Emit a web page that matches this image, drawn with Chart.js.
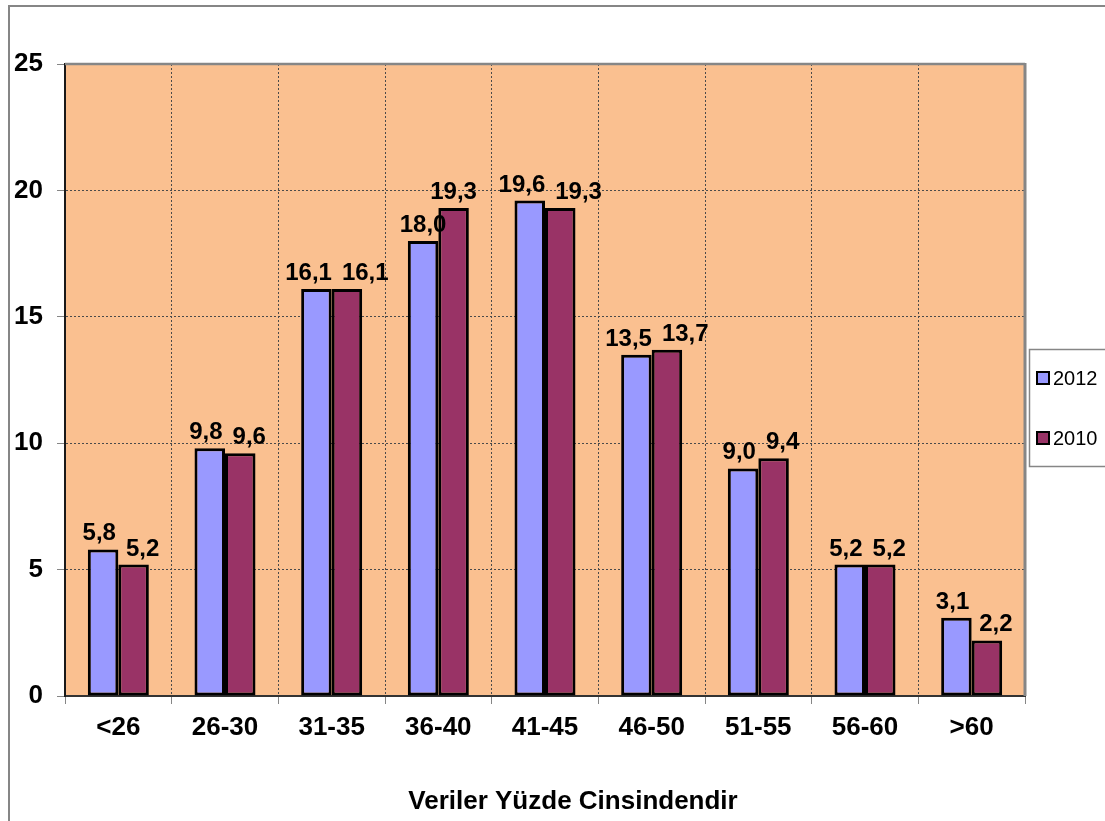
<!DOCTYPE html>
<html>
<head>
<meta charset="utf-8">
<script src="https://cdn.jsdelivr.net/npm/chart.js@4/dist/chart.umd.min.js"></script>
<style>
  html, body { margin: 0; padding: 0; background: #ffffff; }
  #wrap { width: 1105px; height: 821px; }
</style>
</head>
<body>
<div id="wrap"><canvas id="c" width="1105" height="821"></canvas></div>
<script>
// Age groups and percentage shares per survey year
const ageGroups = ['<26', '26-30', '31-35', '36-40', '41-45', '46-50', '51-55', '56-60', '>60'];
const share2012 = [5.8, 9.8, 16.1, 18.0, 19.6, 13.5, 9.0, 5.2, 3.1];
const share2010 = [5.2, 9.6, 16.1, 19.3, 19.3, 13.7, 9.4, 5.2, 2.2];
const seriesNames = ['2012', '2010'];
const yTickValues = [0, 5, 10, 15, 20, 25];
const axisTitle = 'Veriler Yüzde Cinsindendir';

const FONT = "'Liberation Sans', Arial, sans-serif";
const PLOT_BG = '#FAC090';
const FRAME_GREY = '#868686';

// Peach plot background, grey frame and outer chart border
const framePlugin = {
  id: 'frame',
  beforeDraw(chart) {
    const { ctx, chartArea: a } = chart;
    ctx.save();
    ctx.fillStyle = '#ffffff';
    ctx.fillRect(0, 0, chart.width, chart.height);
    ctx.fillStyle = PLOT_BG;
    ctx.fillRect(a.left, a.top, a.right - a.left, a.bottom - a.top);
    ctx.strokeStyle = FRAME_GREY;
    ctx.lineWidth = 2;
    ctx.strokeRect(9, 6, chart.width + 40, chart.height + 40);
    ctx.restore();
  },
  afterDraw(chart) {
    const { ctx, chartArea: a } = chart;
    ctx.save();
    ctx.strokeStyle = FRAME_GREY;
    ctx.lineWidth = 2.5;
    ctx.beginPath();
    ctx.moveTo(a.left, a.top);
    ctx.lineTo(a.right, a.top);
    ctx.stroke();
    ctx.lineWidth = 3;
    ctx.beginPath();
    ctx.moveTo(a.right, a.top - 1);
    ctx.lineTo(a.right, a.bottom);
    ctx.stroke();

    // axis title under the category labels
    ctx.fillStyle = '#000000';
    ctx.font = 'bold 26px ' + FONT;
    ctx.textAlign = 'center';
    ctx.textBaseline = 'middle';
    ctx.fillText(axisTitle, 573, 802);

    // legend box with one swatch per series
    ctx.fillStyle = '#ffffff';
    ctx.fillRect(1029.5, 349.5, 100, 117);
    ctx.strokeStyle = FRAME_GREY;
    ctx.lineWidth = 1.5;
    ctx.strokeRect(1029.5, 349.5, 100, 117);
    chart.data.datasets.forEach((ds, i) => {
      const cy = 378 + i * 60;
      ctx.fillStyle = ds.backgroundColor;
      ctx.fillRect(1037, cy - 6, 12, 12);
      ctx.strokeStyle = '#000000';
      ctx.lineWidth = 2;
      ctx.strokeRect(1037, cy - 6, 12, 12);
      ctx.fillStyle = '#000000';
      ctx.font = '20px ' + FONT;
      ctx.textAlign = 'left';
      ctx.textBaseline = 'middle';
      ctx.fillText(ds.label, 1053, cy + 1);
    });
    ctx.restore();
  }
};

// Value labels above each bar, pushed apart where the pair would collide
const valueLabelPlugin = {
  id: 'valueLabels',
  afterDatasetsDraw(chart) {
    const { ctx } = chart;
    ctx.save();
    ctx.font = 'bold 24px ' + FONT;
    ctx.fillStyle = '#000000';
    ctx.textAlign = 'center';
    ctx.textBaseline = 'alphabetic';
    const metaA = chart.getDatasetMeta(0);
    const metaB = chart.getDatasetMeta(1);
    const rowSpan = 32, gap = 10;
    ageGroups.forEach((_, i) => {
      const items = [metaA, metaB].map((meta, d) => {
        const v = chart.data.datasets[d].data[i];
        const text = v.toFixed(1).replace('.', ',');
        const bar = meta.data[i];
        return { text, x: bar.x, y: bar.y - 9, w: ctx.measureText(text).width };
      });
      const [a, b] = items;
      const vOverlap = Math.abs(a.y - b.y) < rowSpan;
      const hOverlap = (a.x + a.w / 2 + gap) - (b.x - b.w / 2);
      if (vOverlap && hOverlap > 0) {
        a.x -= hOverlap * 0.3;
        b.x += hOverlap * 0.7;
      }
      items.forEach(it => ctx.fillText(it.text, it.x, it.y));
    });
    ctx.restore();
  }
};

new Chart(document.getElementById('c'), {
  type: 'bar',
  data: {
    labels: ageGroups,
    datasets: [
      { label: seriesNames[0], data: share2012, backgroundColor: '#9999FF' },
      { label: seriesNames[1], data: share2010, backgroundColor: '#993366' }
    ]
  },
  options: {
    responsive: false,
    animation: false,
    devicePixelRatio: 1,
    layout: { padding: { left: 10, top: 64, right: 80, bottom: 0 } },
    datasets: {
      bar: {
        barPercentage: 1,
        categoryPercentage: 0.572,
        borderColor: '#000000',
        borderWidth: 3,
        borderSkipped: false
      }
    },
    plugins: {
      legend: { display: false },
      tooltip: { enabled: false }
    },
    scales: {
      x: {
        afterFit(scale) { scale.height = 125; },
        ticks: {
          color: '#000000',
          font: { family: FONT, size: 26, weight: 'bold' },
          padding: 8,
          maxRotation: 0
        },
        grid: {
          offset: true,
          color: ctx => (ctx.type === 'tick' && ctx.index > 0) ? '#4a4a4a' : 'rgba(0,0,0,0)',
          lineWidth: 1,
          tickColor: FRAME_GREY,
          tickLength: 8
        },
        border: { color: '#333333', width: 2, dash: [2, 2] }
      },
      y: {
        min: 0,
        max: 25,
        afterFit(scale) { scale.width = 55; },
        afterBuildTicks(scale) { scale.ticks = yTickValues.map(v => ({ value: v })); },
        ticks: {
          color: '#000000',
          font: { family: FONT, size: 26, weight: 'bold' },
          padding: 14
        },
        grid: {
          color: ctx => (ctx.tick && ctx.tick.value > 0 && ctx.tick.value < 25) ? '#4a4a4a' : 'rgba(0,0,0,0)',
          lineWidth: 1,
          tickColor: FRAME_GREY,
          tickLength: 8
        },
        border: { color: '#1a1a1a', width: 2, dash: [2, 2] }
      }
    }
  },
  plugins: [framePlugin, valueLabelPlugin]
});
</script>
</body>
</html>
